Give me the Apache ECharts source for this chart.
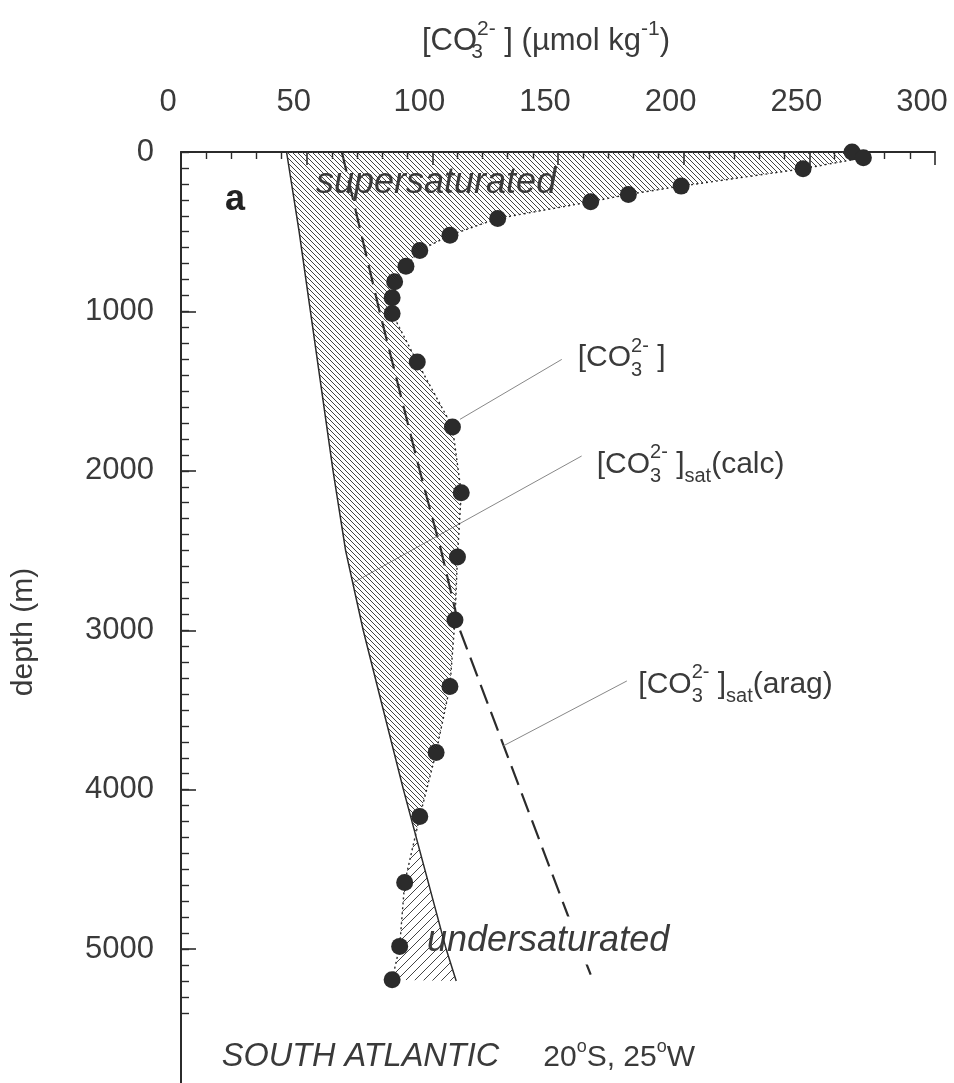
<!DOCTYPE html>
<html>
<head>
<meta charset="utf-8">
<title>South Atlantic carbonate ion profile</title>
<script src="https://cdn.jsdelivr.net/npm/echarts@6/dist/echarts.min.js"></script>
<style>
  html, body { margin: 0; padding: 0; background: #fff; }
  #chart { width: 954px; height: 1083px; }
</style>
</head>
<body>
<div id="chart"></div>
<script>
// measured [CO3 2-] profile (umol/kg) vs depth (m)
const co3Depth = [0, 36, 105, 214, 266, 312, 417, 522, 618, 716, 814, 914, 1013, 1318, 1725, 2137, 2540, 2935, 3353, 3767, 4168, 4582, 4983, 5193];
const co3 = [267, 271.5, 247.5, 199, 178, 163, 126, 107, 95, 89.5, 85, 84, 84, 94, 108, 111.5, 110, 109, 107, 101.5, 95, 89, 87, 84];

// saturation curves
const calcDepth = [0, 500, 1000, 1500, 2000, 2500, 3000, 3500, 4000, 4500, 5000, 5200];
const calcSat = [42, 47, 51.5, 56, 60.5, 65.5, 72.5, 80.5, 88.5, 97, 105.5, 109.5];
const aragDepth = [0, 500, 1000, 1500, 2000, 2500, 3000, 3500, 4000, 4500, 5000, 5200];
const aragSat = [64, 71.5, 79, 87, 95, 103.5, 111, 123, 135, 147, 159, 164];

// leader lines for the curve labels, [x, depth]
const leaderCO3 = [[111, 1677], [151.5, 1301]];
const leaderCalc = [[68.6, 2701], [159.4, 1907]];
const leaderArag = [[128.3, 3725], [177.4, 3318]];

// axes
const xMin = 0, xMax = 300, xStep = 50;
const depthMax = 5840;
const depthTicks = [0, 1000, 2000, 3000, 4000, 5000];
const minorDepthStep = 100, minorDepthEnd = 5400;

const FONT = '"Liberation Sans", Arial, Helvetica, sans-serif';
const INK = '#2b2b2b';
const TXT = '#3a3a3a';

const plotTop = 152, plotBottom = 1083, plotLeft = 181, plotRight = 19;

function hatch(size, dir, color) {
  const c = document.createElement('canvas');
  c.width = c.height = size;
  const ctx = c.getContext('2d');
  ctx.strokeStyle = color;
  ctx.lineWidth = 1;
  ctx.beginPath();
  if (dir === 'down') {
    ctx.moveTo(-1, -1); ctx.lineTo(size + 1, size + 1);
    ctx.moveTo(-1, size - 1); ctx.lineTo(1, size + 1);
    ctx.moveTo(size - 1, -1); ctx.lineTo(size + 1, 1);
  } else {
    ctx.moveTo(-1, size + 1); ctx.lineTo(size + 1, -1);
    ctx.moveTo(-1, 1); ctx.lineTo(1, -1);
    ctx.moveTo(size - 1, size + 1); ctx.lineTo(size + 1, size - 1);
  }
  ctx.stroke();
  return c;
}
const hatchSuper = hatch(5, 'down', '#444');
const hatchUnder = hatch(9, 'up', '#444');

function interp(ds, xs, d) {
  if (d <= ds[0]) return xs[0];
  for (let i = 1; i < ds.length; i++) {
    if (d <= ds[i]) {
      const t = (d - ds[i - 1]) / (ds[i] - ds[i - 1]);
      return xs[i - 1] + t * (xs[i] - xs[i - 1]);
    }
  }
  return xs[xs.length - 1];
}

// split the area between measured and calcite curve where they cross
function hatchRender(params, api) {
  const diff = co3.map((v, i) => v - interp(calcDepth, calcSat, co3Depth[i]));
  const k = diff.findIndex((v, i) => i > 0 && diff[i - 1] > 0 && v <= 0);
  const t = diff[k - 1] / (diff[k - 1] - diff[k]);
  const cross = [co3[k - 1] + t * (co3[k] - co3[k - 1]), co3Depth[k - 1] + t * (co3Depth[k] - co3Depth[k - 1])];

  const upper = [];
  for (let i = 0; i < k; i++) upper.push([co3[i], co3Depth[i]]);
  upper.push(cross);
  for (let j = calcDepth.length - 1; j >= 0; j--) {
    if (calcDepth[j] < cross[1]) upper.push([calcSat[j], calcDepth[j]]);
  }
  const lower = [cross];
  for (let i = k; i < co3.length; i++) lower.push([co3[i], co3Depth[i]]);
  for (let j = calcDepth.length - 1; j >= 0; j--) {
    if (calcDepth[j] > cross[1]) lower.push([calcSat[j], calcDepth[j]]);
  }
  return {
    type: 'group',
    children: [
      { type: 'polygon', shape: { points: upper.map(p => api.coord(p)) },
        style: { fill: { image: hatchSuper, repeat: 'repeat' }, stroke: null } },
      { type: 'polygon', shape: { points: lower.map(p => api.coord(p)) },
        style: { fill: { image: hatchUnder, repeat: 'repeat' }, stroke: null } }
    ]
  };
}

const pairs = (xs, ds) => xs.map((v, i) => [v, ds[i]]);

// chemistry labels: sub "3" takes no width so "2-" sits above it
function chemRich(size) {
  const s = Math.round(size * 0.68);
  return {
    m: { fontSize: size, lineHeight: 44, fontFamily: FONT },
    sub0: { fontSize: s, lineHeight: 30, verticalAlign: 'bottom', width: 0, fontFamily: FONT },
    sub: { fontSize: s, lineHeight: 30, verticalAlign: 'bottom', fontFamily: FONT },
    sup: { fontSize: s, lineHeight: 6, verticalAlign: 'top', fontFamily: FONT }
  };
}
const CO3 = '{m|[CO}{sub0|3}{sup|2-}{m| ]}';

function chemText(x, y, text, size, align) {
  return {
    type: 'text', x: x, y: y, z: 20, silent: true,
    style: { text: text, rich: chemRich(size), fill: TXT, fontSize: size, fontFamily: FONT,
      align: align || 'left', verticalAlign: 'middle',
      textAlign: align || 'left', textVerticalAlign: 'middle' }
  };
}
function plainText(x, y, text, size, extra, rotation, z) {
  return {
    type: 'text', x: x, y: y, z: z == null ? 20 : z, silent: true, rotation: rotation || 0,
    style: Object.assign({ text: text, fill: TXT, fontSize: size, fontFamily: FONT,
      align: 'left', verticalAlign: 'middle', textAlign: 'left', textVerticalAlign: 'middle' }, extra || {})
  };
}

const chart = echarts.init(document.getElementById('chart'));

chart.setOption({
  animation: false,
  backgroundColor: '#fff',
  grid: [
    { left: plotLeft, right: plotRight, top: plotTop, bottom: 1083 - plotBottom },
    { left: plotLeft, right: plotRight, top: plotTop,
      height: (plotBottom - plotTop) * minorDepthEnd / depthMax }
  ],
  xAxis: [
    {
      type: 'value', gridIndex: 0, position: 'top', min: xMin, max: xMax, interval: xStep,
      axisLine: { onZero: false, lineStyle: { color: INK, width: 2 } },
      axisTick: { inside: true, length: 13, lineStyle: { color: INK, width: 1.6 } },
      minorTick: { show: true, splitNumber: 5, length: 7, lineStyle: { color: INK, width: 1.4 } },
      axisLabel: { fontSize: 31, fontFamily: FONT, color: TXT, margin: 34, padding: [0, 26, 0, 0] },
      splitLine: { show: false }
    },
    { type: 'value', gridIndex: 1, min: xMin, max: xMax, show: false }
  ],
  yAxis: [
    {
      type: 'value', gridIndex: 0, inverse: true, min: 0, max: depthMax, interval: 1000,
      axisLine: { onZero: false, lineStyle: { color: INK, width: 2 } },
      axisTick: { inside: true, length: 15, customValues: depthTicks, lineStyle: { color: INK, width: 1.6 } },
      axisLabel: {
        fontSize: 31, fontFamily: FONT, color: TXT, margin: 27, customValues: depthTicks,
        formatter: v => depthTicks.indexOf(v) >= 0 ? String(v) : ''
      },
      splitLine: { show: false }
    },
    {
      type: 'value', gridIndex: 1, inverse: true, min: 0, max: minorDepthEnd, interval: minorDepthStep,
      position: 'left',
      axisLine: { show: false },
      axisTick: { inside: true, length: 8, lineStyle: { color: INK, width: 1.4 } },
      axisLabel: { show: false },
      splitLine: { show: false }
    }
  ],
  graphic: [
    chemText(546, 41, CO3 + '{m| (µmol kg}{sup|-1}{m|)}', 31, 'center'),
    plainText(24, 632, 'depth (m)', 30, { align: 'center', textAlign: 'center' }, Math.PI / 2),
    plainText(225, 200.5, 'a', 36, { fontWeight: 'bold', fill: '#222' }),
    plainText(316, 182.5, 'supersaturated', 36, { fontStyle: 'italic' }),
    // white box knocks out the dashed line but stays under the hatching
    plainText(427, 940.5, 'undersaturated', 36,
      { fontStyle: 'italic', backgroundColor: '#fff', padding: [6, 0, 6, 0] }, 0, 2.5),
    plainText(221.7, 1057, 'SOUTH ATLANTIC', 32.5, { fontStyle: 'italic' }),
    {
      type: 'text', x: 543.3, y: 1058, z: 20, silent: true,
      style: {
        text: '{m|20}{o|o}{m|S, 25}{o|o}{m|W}', fill: TXT, fontSize: 30, fontFamily: FONT,
        align: 'left', verticalAlign: 'middle', textAlign: 'left', textVerticalAlign: 'middle',
        rich: {
          m: { fontSize: 30, lineHeight: 40, fontFamily: FONT },
          o: { fontSize: 18, lineHeight: 21, verticalAlign: 'top', fontFamily: FONT }
        }
      }
    },
    chemText(577.7, 358, CO3, 30),
    chemText(596.7, 464.6, CO3 + '{sub|sat}{m|(calc)}', 30),
    chemText(638.3, 684.6, CO3 + '{sub|sat}{m|(arag)}', 30)
  ],
  series: [
    {
      type: 'custom', coordinateSystem: 'cartesian2d', xAxisIndex: 0, yAxisIndex: 0,
      data: [[0, 0]], renderItem: hatchRender, silent: true, z: 3
    },
    {
      type: 'line', data: pairs(calcSat, calcDepth), showSymbol: false, silent: true, z: 3,
      lineStyle: { color: INK, width: 1.5 }
    },
    {
      type: 'line', data: pairs(aragSat, aragDepth), showSymbol: false, silent: true, z: 2,
      lineStyle: { color: INK, width: 2.2, type: [20, 9] }
    },
    {
      type: 'line', data: pairs(co3, co3Depth), showSymbol: false, silent: true, z: 3,
      lineStyle: { color: INK, width: 1.4, type: [2, 3] }
    },
    { type: 'line', data: leaderCO3, showSymbol: false, silent: true, z: 2, lineStyle: { color: '#888', width: 1 } },
    { type: 'line', data: leaderCalc, showSymbol: false, silent: true, z: 2, lineStyle: { color: '#888', width: 1 } },
    { type: 'line', data: leaderArag, showSymbol: false, silent: true, z: 2, lineStyle: { color: '#888', width: 1 } },
    {
      type: 'scatter', data: pairs(co3, co3Depth), symbolSize: 17, silent: true, z: 5,
      itemStyle: { color: '#2b2b2b', opacity: 1 }
    }
  ]
});
</script>
</body>
</html>
